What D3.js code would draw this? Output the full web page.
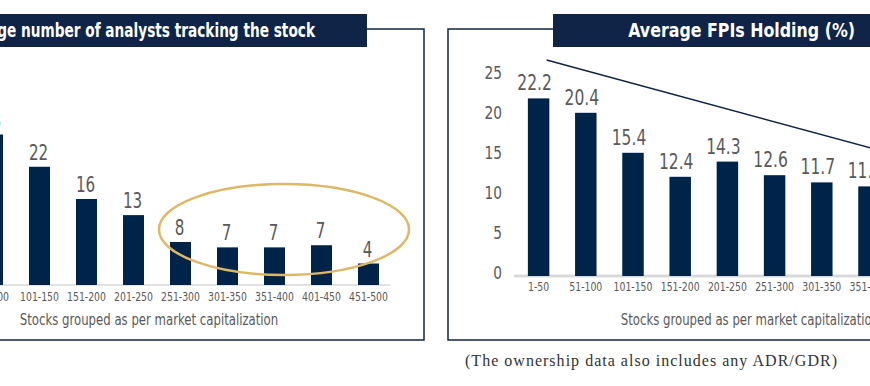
<!DOCTYPE html>
<html>
<head>
<meta charset="utf-8">
<script src="https://cdn.jsdelivr.net/npm/d3@7"></script>
<style>
  body { margin: 0; background: #fff; }
  svg { display: block; }
  text { font-family: "Liberation Sans Narrow", "DejaVu Sans Condensed", "Roboto Condensed", sans-serif; }
</style>
</head>
<body>
<div id="chart"></div>
<script>
(function() {

    var width = 870;
    var height = 386;

    // data
    var categories = ["1-50", "51-100", "101-150", "151-200", "201-250", "251-300", "301-350", "351-400", "401-450", "451-500"];
    var analysts = [34, 28, 22, 16, 13, 8, 7, 7, 7.4, 4];
    var analystLabels = ["34", "28", "22", "16", "13", "8", "7", "7", "7", "4"];
    var fpiHolding = [22.2, 20.4, 15.4, 12.4, 14.3, 12.6, 11.7, 11.2, 10.6, 10.1];
    var fpiTicks = [0, 5, 10, 15, 20, 25];
    var trendCats = ["1-50", "451-500"];
    var trendVals = [27.0, 12.6];
    var circledCats = ["251-300", "451-500"];

    var navy = "#00234a";
    var frame = "#0f2446";
    var labelGrey = "#595959";

    // the fonts at hand are wider than the original condensed face,
    // so squeeze each text horizontally
    function condense(sel, k) {
        sel.each(function () {
            var len = this.getComputedTextLength();
            d3.select(this)
                .attr("textLength", len * k)
                .attr("lengthAdjust", "spacingAndGlyphs");
        });
    }

    var svg = d3.select("#chart")
        .append("svg")
        .attr("width", width)
        .attr("height", height);

    // ---------- left panel: analysts ----------
    var left = svg.append("g");

    left.append("rect")
        .attr("x", -20).attr("y", 29)
        .attr("width", 444).attr("height", 311)
        .attr("fill", "none").attr("stroke", frame).attr("stroke-width", 1.5);

    left.append("rect")
        .attr("x", -20).attr("y", 14)
        .attr("width", 387).attr("height", 33)
        .attr("fill", frame);

    left.append("text")
        .attr("x", 315).attr("y", 37)
        .attr("text-anchor", "end")
        .attr("fill", "#fff")
        .style("font-weight", "bold")
        .style("font-size", "20px")
        .text("Average number of analysts tracking the stock")
        .call(condense, 0.76);

    var xL = d3.scaleBand().domain(categories).range([-78, 392]).paddingInner(0.553).paddingOuter(0.2765);
    var yL = d3.scaleLinear().domain([0, 40]).range([285, 70]);

    left.append("line")
        .attr("x1", -10).attr("x2", 390)
        .attr("y1", yL(0)).attr("y2", yL(0))
        .attr("stroke", "#d9d9d9").attr("stroke-width", 1.5);

    var leftData = categories.map(function (c, i) { return {cat: c, v: analysts[i], label: analystLabels[i]}; });

    left.selectAll(".bar").data(leftData).enter().append("rect")
        .attr("class", "bar")
        .attr("x", function (d) { return xL(d.cat); })
        .attr("y", function (d) { return yL(d.v); })
        .attr("width", xL.bandwidth())
        .attr("height", function (d) { return yL(0) - yL(d.v); })
        .attr("fill", navy);

    left.selectAll(".val").data(leftData).enter().append("text")
        .attr("class", "val")
        .attr("x", function (d) { return xL(d.cat) + xL.bandwidth() / 2 - 1; })
        .attr("y", function (d) { return yL(d.v) - 7; })
        .attr("text-anchor", "middle")
        .attr("fill", labelGrey)
        .style("font-size", "21px")
        .text(function (d) { return d.label; })
        .call(condense, 0.8);

    left.append("g")
        .attr("transform", "translate(0," + (yL(0) + 16) + ")")
        .selectAll("text").data(categories).enter().append("text")
        .attr("x", function (d) { return xL(d) + xL.bandwidth() / 2; })
        .attr("text-anchor", "middle")
        .attr("fill", labelGrey)
        .style("font-size", "11.5px")
        .text(function (d) { return d; })
        .call(condense, 0.9);

    left.append("text")
        .attr("x", 149).attr("y", 325)
        .attr("text-anchor", "middle")
        .attr("fill", labelGrey)
        .style("font-size", "15.5px")
        .text("Stocks grouped as per market capitalization")
        .call(condense, 0.84);

    // ellipse round the small-cap bars
    var ex0 = xL(circledCats[0]) - 11;
    var ex1 = xL(circledCats[1]) + xL.bandwidth() + 30;
    left.append("ellipse")
        .attr("cx", (ex0 + ex1) / 2)
        .attr("cy", 229.5)
        .attr("rx", (ex1 - ex0) / 2)
        .attr("ry", 45.5)
        .attr("fill", "none")
        .attr("stroke", "#ddb866")
        .attr("stroke-width", 2.5);

    // ---------- right panel: FPI holding ----------
    var right = svg.append("g");

    right.append("rect")
        .attr("x", 448).attr("y", 29)
        .attr("width", 450).attr("height", 311)
        .attr("fill", "none").attr("stroke", frame).attr("stroke-width", 1.5);

    right.append("rect")
        .attr("x", 553).attr("y", 14)
        .attr("width", 340).attr("height", 33)
        .attr("fill", frame);

    right.append("text")
        .attr("x", 855).attr("y", 37)
        .attr("text-anchor", "end")
        .attr("fill", "#fff")
        .style("font-weight", "bold")
        .style("font-size", "20px")
        .text("Average FPIs Holding (%)")
        .call(condense, 0.88);

    var xR = d3.scaleBand().domain(categories).range([515, 987]).paddingInner(0.545).paddingOuter(0.2725);
    var yR = d3.scaleLinear().domain([0, 25]).range([276, 76]);

    right.append("g")
        .selectAll("text").data(fpiTicks).enter().append("text")
        .attr("x", 502)
        .attr("y", function (d) { return yR(d) + 3; })
        .attr("text-anchor", "end")
        .attr("fill", labelGrey)
        .style("font-size", "18px")
        .text(function (d) { return d; })
        .call(condense, 0.85);

    right.append("line")
        .attr("x1", 514).attr("x2", 880)
        .attr("y1", yR(0)).attr("y2", yR(0))
        .attr("stroke", "#d9d9d9").attr("stroke-width", 3);

    var rightData = categories.map(function (c, i) { return {cat: c, v: fpiHolding[i]}; });

    right.selectAll(".bar").data(rightData).enter().append("rect")
        .attr("class", "bar")
        .attr("x", function (d) { return xR(d.cat); })
        .attr("y", function (d) { return yR(d.v); })
        .attr("width", xR.bandwidth())
        .attr("height", function (d) { return yR(0) - yR(d.v); })
        .attr("fill", navy);

    right.selectAll(".val").data(rightData).enter().append("text")
        .attr("class", "val")
        .attr("x", function (d) { return xR(d.cat) + xR.bandwidth() / 2 - 4; })
        .attr("y", function (d) { return yR(d.v) - 8; })
        .attr("text-anchor", "middle")
        .attr("fill", labelGrey)
        .style("font-size", "21px")
        .text(function (d) { return d.v.toFixed(1); })
        .call(condense, 0.82);

    right.append("g")
        .attr("transform", "translate(0," + (yR(0) + 15) + ")")
        .selectAll("text").data(categories).enter().append("text")
        .attr("x", function (d) { return xR(d) + xR.bandwidth() / 2; })
        .attr("text-anchor", "middle")
        .attr("fill", labelGrey)
        .style("font-size", "11.5px")
        .text(function (d) { return d; })
        .call(condense, 0.9);

    right.append("text")
        .attr("x", 750).attr("y", 325)
        .attr("text-anchor", "middle")
        .attr("fill", labelGrey)
        .style("font-size", "15.5px")
        .text("Stocks grouped as per market capitalization")
        .call(condense, 0.84);

    // declining trend line
    var trend = trendCats.map(function (c, i) { return [xR(c) + xR.bandwidth() / 2 + 8, yR(trendVals[i])]; });
    right.append("path")
        .attr("d", d3.line()(trend))
        .attr("fill", "none")
        .attr("stroke", frame)
        .attr("stroke-width", 1.5);

    svg.append("text")
        .attr("x", 465).attr("y", 366)
        .attr("fill", "#333")
        .style("font-family", "'Liberation Serif', 'DejaVu Serif', serif")
        .style("font-size", "16px")
        .attr("textLength", 372)
        .attr("lengthAdjust", "spacing")
        .text("(The ownership data also includes any ADR/GDR)");

})();
</script>
</body>
</html>
